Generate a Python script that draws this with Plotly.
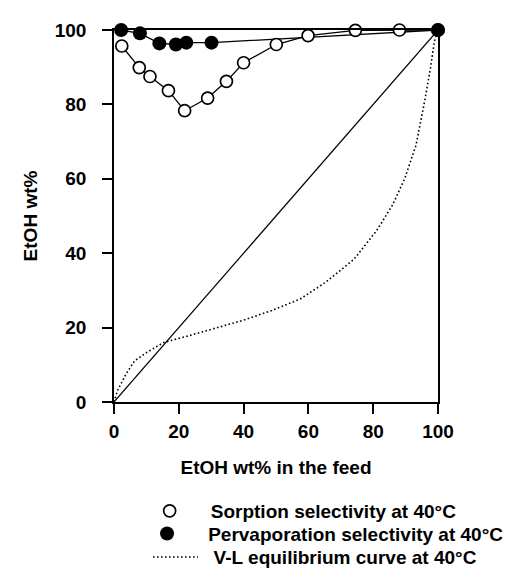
import plotly.graph_objects as go

# Sorption selectivity at 40°C (open circles)
sorp_x = [2.4, 7.8, 11.1, 16.8, 21.8, 28.9, 34.7, 40.0, 50.1, 59.9, 74.5, 88.1, 100]
sorp_y = [95.7, 89.9, 87.5, 83.7, 78.3, 81.7, 86.2, 91.2, 96.1, 98.5, 99.9, 100.0, 100.0]

# Pervaporation selectivity at 40°C (filled circles)
perv_x = [2.2, 8.0, 14.0, 19.1, 22.3, 30.1, 100]
perv_y = [100.0, 99.1, 96.4, 96.1, 96.6, 96.6, 100.0]

# V-L equilibrium curve at 40°C (dotted)
vle_x = [0, 1.1, 3.7, 6.3, 9.9, 15.3, 22.2, 31.0, 40.0, 48.7, 57.5, 65.0, 74.0,
         81.0, 86.0, 89.7, 93.2, 95.8, 97.6, 98.9, 100]
vle_y = [0, 3.1, 7.5, 11.0, 13.2, 16.0, 17.6, 19.8, 22.0, 24.6, 27.7, 32.0, 38.3,
         46.0, 53.0, 60.0, 69.0, 80.5, 89.3, 97.0, 100]

# Diagonal y = x
diag_x = [0, 100]
diag_y = [0, 100]

tick_vals = [0, 20, 40, 60, 80, 100]
tick_text = ["0", "20", "40", "60", "80", "100"]

FONT = "Liberation Sans, Arial, sans-serif"
NB = "\u00a0"
BOLD19 = dict(family=FONT, size=19, color="black", weight="bold")

fig = go.Figure()

# diagonal
fig.add_trace(go.Scatter(x=diag_x, y=diag_y, mode="lines",
                         line=dict(color="black", width=1.2),
                         showlegend=False, hoverinfo="skip"))

# VLE dotted curve
fig.add_trace(go.Scatter(x=vle_x, y=vle_y, mode="lines",
                         line=dict(color="black", width=1.6, dash="1.6px,2.4px"),
                         name=NB * 2 + "V-L equilibrium curve at 40°C",
                         legend="legend3", cliponaxis=False))

# connecting lines of the two selectivity series (no legend)
fig.add_trace(go.Scatter(x=sorp_x, y=sorp_y, mode="lines",
                         line=dict(color="black", width=1.3),
                         showlegend=False, hoverinfo="skip", cliponaxis=False))
fig.add_trace(go.Scatter(x=perv_x, y=perv_y, mode="lines",
                         line=dict(color="black", width=1.3),
                         showlegend=False, hoverinfo="skip", cliponaxis=False))

# markers
fig.add_trace(go.Scatter(x=sorp_x, y=sorp_y, mode="markers",
                         marker=dict(symbol="circle", size=12, color="white",
                                     line=dict(color="black", width=1.7)),
                         name=NB * 4 + "Sorption selectivity at 40°C",
                         legend="legend", cliponaxis=False))
fig.add_trace(go.Scatter(x=perv_x, y=perv_y, mode="markers",
                         marker=dict(symbol="circle", size=14, color="black",
                                     line=dict(color="black", width=0)),
                         name=NB * 4 + "Pervaporation selectivity at 40°C",
                         legend="legend2", cliponaxis=False))

axis_common = dict(
    range=[0, 100],
    tickvals=tick_vals,
    ticktext=tick_text,
    ticks="outside",
    ticklen=10,
    tickwidth=1.5,
    tickcolor="black",
    showline=True,
    linecolor="black",
    linewidth=1.6,
    mirror=True,
    showgrid=False,
    zeroline=False,
    tickfont=BOLD19,
)

fig.update_xaxes(**axis_common, ticklabelstandoff=1,
                 title=dict(text="EtOH wt% in the feed", font=BOLD19, standoff=20))
fig.update_yaxes(**axis_common, ticklabelstandoff=12,
                 title=dict(text="EtOH wt%", font=BOLD19, standoff=12))

leg_common = dict(xanchor="left", yanchor="middle", font=BOLD19,
                  bgcolor="rgba(0,0,0,0)", borderwidth=0)

fig.update_layout(
    width=513, height=580,
    margin=dict(l=106, r=26, t=19, b=182, pad=0),
    paper_bgcolor="white",
    plot_bgcolor="white",
    font=dict(family=FONT, size=19, color="black"),
    showlegend=True,
    legend=dict(x=0.11, y=-0.293, itemwidth=30, **leg_common),
    legend2=dict(x=0.102, y=-0.354, itemwidth=30, **leg_common),
    legend3=dict(x=0.105, y=-0.417, itemwidth=45, **leg_common),
)

fig.write_html("out.html")
